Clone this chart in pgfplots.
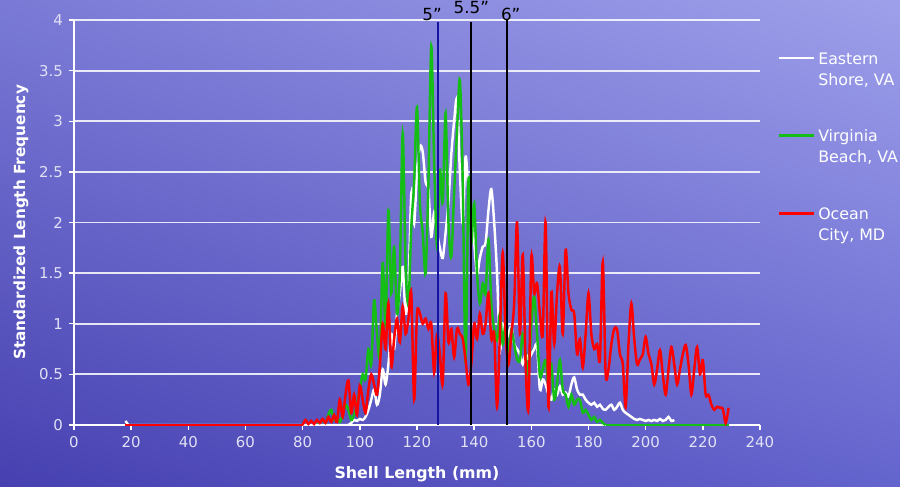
\documentclass[border=0pt]{standalone}
\usepackage{pgfplots}
\pgfplotsset{compat=1.18}
\usepackage{pgfplotstable}
\usetikzlibrary{shadings}
\usepackage{fontspec}
\setmainfont{DejaVu Sans}
\definecolor{bgUL}{RGB}{122,122,214}
\definecolor{bgUR}{RGB}{158,160,234}
\definecolor{bgLL}{RGB}{70,64,176}
\definecolor{bgLR}{RGB}{100,100,206}
\definecolor{tickc}{RGB}{225,225,245}
\definecolor{vbgreen}{RGB}{20,190,20}
\definecolor{navyline}{RGB}{20,20,160}

% flat stretches of each series (drawn without smoothing)
\pgfplotstableread{
x y
18 0.04
19 0
96 0
}\easternflat
\pgfplotstableread{
x y
186 0
229 0
}\virginiaflat
\pgfplotstableread{
x y
18 0
80 0
}\oceanflat

\pgfplotstableread{
x y
96 0
97 0.02
98 0.05
99 0.04
100 0.06
101 0.05
102 0.08
103 0.15
104 0.25
105 0.35
106 0.2
107 0.3
108 0.55
109 0.4
110 0.6
111 0.9
112 0.75
113 1.1
114 1.3
115 1.56
116 1.1
117 1.33
118 2.29
119 1.99
120 2.5
121 2.75
122 2.7
123 2.4
124 2.32
125 1.86
126 2.1
127 1.9
128 1.75
129 1.65
130 1.9
131 2.2
132 2.67
133 3.0
134 3.21
135 2.5
136 1.99
137 2.65
138 2.3
139 2.1
140 1.8
141 1.5
142 1.65
143 1.76
144 1.8
145 2.12
146 2.33
147 2.0
148 1.5
149 0.75
150 1.0
151 0.85
152 0.9
153 0.97
154 0.8
155 0.75
156 0.7
157 0.6
158 0.7
159 0.65
160 0.7
161 0.75
162 0.78
163 0.35
164 0.45
165 0.4
166 0.3
167 0.25
168 0.35
169 0.3
170 0.38
171 0.3
172 0.32
173 0.28
174 0.4
175 0.47
176 0.35
177 0.3
178 0.3
179 0.25
180 0.22
181 0.2
182 0.22
183 0.18
184 0.2
185 0.16
186 0.15
187 0.18
188 0.2
189 0.15
190 0.18
191 0.22
192 0.15
193 0.12
194 0.1
195 0.08
196 0.06
197 0.05
198 0.06
199 0.05
200 0.04
201 0.05
202 0.04
203 0.05
204 0.04
205 0.06
206 0.04
207 0.05
208 0.08
209 0.04
210 0.05
}\eastern

\pgfplotstableread{
x y
85 0
86 0.02
87 0.05
88 0.02
89 0.1
90 0.15
91 0.05
92 0.08
93 0.03
94 0.1
95 0.2
96 0.15
97 0.05
98 0.1
99 0.2
100 0.35
101 0.5
102 0.45
103 0.75
104 0.6
105 1.23
106 0.9
107 0.68
108 1.6
109 1.0
110 2.12
111 1.3
112 1.76
113 1.1
114 1.5
115 2.88
116 1.6
117 1.2
118 1.95
119 2.4
120 3.14
121 2.2
122 1.9
123 1.5
124 2.4
125 3.74
126 2.6
127 1.76
128 2.52
129 2.2
130 3.08
131 2.0
132 1.66
133 2.3
134 2.9
135 3.41
136 2.4
137 0.61
138 2.42
139 1.8
140 2.19
141 1.5
142 1.2
143 1.4
144 1.3
145 1.83
146 1.2
147 0.95
148 0.83
149 1.1
150 0.8
151 1.0
152 0.7
153 0.94
154 0.8
155 0.65
156 0.64
157 0.9
158 0.7
159 0.5
160 1.0
161 1.27
162 0.9
163 0.48
164 0.55
165 0.64
166 0.4
167 0.6
168 0.25
169 0.4
170 0.64
171 0.35
172 0.3
173 0.18
174 0.3
175 0.2
176 0.25
177 0.25
178 0.12
179 0.15
180 0.1
181 0.05
182 0.08
183 0.03
184 0.05
185 0.02
186 0
}\virginia

\pgfplotstableread{
x y
80 0
81 0.05
82 0.01
83 0.04
84 0.01
85 0.05
86 0.02
87 0.06
88 0.02
89 0.08
90 0.03
91 0.1
92 0.03
93 0.25
94 0.08
95 0.3
96 0.44
97 0.12
98 0.3
99 0.1
100 0.39
101 0.25
102 0.12
103 0.35
104 0.5
105 0.4
106 0.3
107 0.58
108 1.0
109 0.75
110 1.2
111 0.58
112 0.85
113 1.05
114 0.82
115 1.17
116 0.9
117 1.05
118 1.3
119 0.25
120 1.1
121 1.1
122 1.0
123 1.05
124 0.95
125 1.0
126 0.52
127 0.9
128 0.7
129 0.41
130 1.3
131 0.82
132 0.95
133 0.67
134 0.95
135 0.9
136 0.85
137 0.64
138 0.4
139 0.6
140 1.0
141 0.85
142 1.1
143 0.9
144 1.0
145 1.3
146 0.85
147 0.9
148 0.18
149 0.9
150 1.7
151 0.9
152 0.6
153 0.9
154 1.2
155 2.0
156 0.9
157 1.68
158 0.6
159 0.17
160 1.65
161 1.3
162 1.4
163 1.1
164 0.9
165 2.0
166 0.18
167 1.31
168 0.8
169 1.3
170 1.56
171 0.9
172 1.73
173 1.3
174 1.14
175 1.1
176 0.7
177 0.85
178 0.57
179 0.9
180 1.3
181 0.9
182 0.75
183 0.8
184 0.65
185 1.61
186 0.51
187 0.55
188 0.8
189 0.95
190 0.94
191 0.7
192 0.6
193 0.18
194 0.8
195 1.2
196 0.85
197 0.6
198 0.65
199 0.7
200 0.87
201 0.7
202 0.6
203 0.4
204 0.55
205 0.74
206 0.5
207 0.3
208 0.55
209 0.77
210 0.6
211 0.4
212 0.55
213 0.7
214 0.79
215 0.6
216 0.3
217 0.55
218 0.77
219 0.5
220 0.64
221 0.3
222 0.3
223 0.2
224 0.15
225 0.18
226 0.17
227 0.16
228 0.02
229 0.17
}\ocean

\begin{document}
\begin{tikzpicture}
\useasboundingbox (0,0) rectangle (18cm,9.72cm);
\shade[upper left=bgUL, upper right=bgUR, lower left=bgLL, lower right=bgLR] (0,0) rectangle (18cm,9.72cm);
\begin{axis}[
  at={(1.48cm,1.22cm)}, anchor=south west,
  scale only axis, width=13.72cm, height=8.1cm,
  xmin=0, xmax=240, ymin=0, ymax=4,
  xtick={0,20,...,240}, ytick={0,0.5,...,4},
  axis x line*=bottom, axis y line*=left,
  axis line style={white, line width=1pt, -},
  tick style={white, line width=0.8pt},
  tick align=outside, major tick length=0.1cm,
  ymajorgrids, grid style={white, line width=1pt, opacity=0.85},
  ticklabel style={font=\fontsize{8.5}{10}\selectfont, text=tickc},
  /pgf/number format/assume math mode=true,
  xlabel={Shell Length (mm)}, ylabel={Standardized Length Frequency},
  xlabel style={at={(axis description cs:0.5,0)}, anchor=base, yshift=-1.06cm,
    font=\fontsize{9}{11}\selectfont\bfseries, text=white},
  ylabel style={at={(axis description cs:-0.0714,0.5)}, anchor=base,
    font=\fontsize{8.7}{10}\selectfont\bfseries, text=white},
  clip mode=individual,
  legend style={at={(1.017,0.938)}, anchor=north west, draw=none, fill=none,
    text=white, font=\fontsize{9}{12}\selectfont, nodes={align=left},
    row sep=0.7cm},
  legend cell align=left,
  legend image code/.code={\draw[#1] (0cm,0.24cm) -- (0.7cm,0.24cm);},
]
\addplot[white, line width=1.4pt, smooth, tension=0.5] table[x=x,y=y] {\eastern};
\addlegendentry{Eastern\\Shore, VA}
\addplot[vbgreen, line width=1.4pt, smooth, tension=0.5] table[x=x,y=y] {\virginia};
\addlegendentry{Virginia\\Beach, VA}
\addplot[white, line width=1.4pt, forget plot] table[x=x,y=y] {\easternflat};
\addplot[vbgreen, line width=1.4pt, forget plot] table[x=x,y=y] {\virginiaflat};
\addplot[red, line width=1.4pt, smooth, tension=0.5] table[x=x,y=y] {\ocean};
\addlegendentry{Ocean\\City, MD}
\addplot[red, line width=1.4pt, forget plot] table[x=x,y=y] {\oceanflat};
\addplot[navyline, line width=1.1pt, forget plot] coordinates {(127.2,0) (127.2,3.98)};
\addplot[black, line width=1.1pt, forget plot] coordinates {(139,0) (139,3.98)};
\addplot[black, line width=1.1pt, forget plot] coordinates {(151.4,0) (151.4,4.02)};
\node[anchor=base, font=\fontsize{9.5}{11}\selectfont, xshift=-0.11cm] at (axis cs:127.2,4) {5”};
\node[anchor=base, font=\fontsize{9.5}{11}\selectfont, yshift=0.14cm] at (axis cs:139,4) {5.5”};
\node[anchor=base, font=\fontsize{9.5}{11}\selectfont, xshift=0.08cm] at (axis cs:151.4,4) {6”};
\end{axis}
\end{tikzpicture}
\end{document}
